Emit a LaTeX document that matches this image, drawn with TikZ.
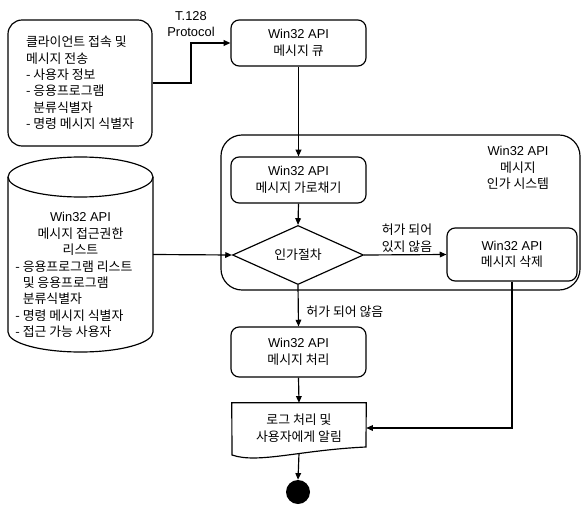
\documentclass[tikz,border=0pt]{standalone}
\usepackage{fontspec}
\setmainfont{Liberation Sans}
\newfontfamily\kr{Noto Sans CJK KR}
\usetikzlibrary{arrows.meta,shapes.geometric}

\begin{document}
\begin{tikzpicture}[
    x=0.03cm, y=-0.03cm,
    font=\fontsize{11}{14}\selectfont,
    line/.style={line width=1pt},
    box/.style={draw, line, rounded corners=7pt, align=center, inner sep=2pt},
    arr/.style={-{Triangle[length=2mm,width=1.7mm]}, line},
    lbl/.style={align=center, inner sep=1pt}
  ]
    \useasboundingbox (0,0) rectangle (584,505);

    % outer system box
    \node[box, rounded corners=18pt, minimum width=10.77cm, minimum height=4.65cm] (sys) at (400.5,212.5) {};
    \node[lbl] (systxt) at (518,168) {Win32 API\\{\kr 메시지}\\{\kr 인가 시스템}};

    \node[box, rounded corners=12pt, minimum width=4.32cm, minimum height=3.78cm, align=left] (client) at (80,83)
      {\kr 클라이언트 접속 및\\\kr 메시지 전송\\\kr - 사용자 정보\\\kr - 응용프로그램\\\kr \phantom{- }분류식별자\\\kr - 명령 메시지 식별자};

    \node[lbl] (proto) at (191,24) {T.128\\Protocol};

    \node[box, minimum width=4.05cm, minimum height=1.38cm] (queue) at (298.5,43)
      {Win32 API\\{\kr 메시지 큐}};
    \node[box, minimum width=4.05cm, minimum height=1.38cm] (grab) at (298.5,180)
      {Win32 API\\{\kr 메시지 가로채기}};
    \node[draw, line, diamond, minimum width=3.93cm, minimum height=1.47cm, inner sep=0pt] (auth) at (298,255)
      {\kr 인가절차};
    \node[box, minimum width=3.9cm, minimum height=1.59cm] (del) at (512,254.5)
      {Win32 API\\{\kr 메시지 삭제}};
    \node[box, minimum width=4.05cm, minimum height=1.5cm] (proc) at (298.5,352)
      {Win32 API\\{\kr 메시지 처리}};

    % document shape
    \node[minimum width=4.02cm, minimum height=1.5cm, align=center] (doc) at (299,428)
      {\kr 로그 처리 및\\\kr 사용자에게 알림};
    \draw[line] (doc.north west) -- (doc.north east) -- (366,447)
      .. controls (300,450) and (258,464) .. (232,455) -- cycle;

    \node[circle, fill=black, minimum size=0.72cm, inner sep=0pt] (end) at (298,492) {};

    % access list cylinder
    \node[minimum width=4.35cm, minimum height=5.85cm] (acl) at (80.5,254.5) {};
    \draw[line] (80.5,177) ellipse [x radius=2.175cm, y radius=0.6cm];
    \draw[line] (8,177) -- (8,332) arc [start angle=180, end angle=360, x radius=2.175cm, y radius=0.6cm] -- (153,177);
    \node[lbl] (acltitle) at (80.5,234) {Win32 API\\{\kr 메시지 접근권한}\\{\kr 리스트}};
    \node[lbl, align=left, anchor=west] (aclitems) at (14,299)
      {\kr - 응용프로그램 리스트\\\kr \phantom{- }및 응용프로그램\\\kr \phantom{- }분류식별자\\\kr - 명령 메시지 식별자\\\kr - 접근 가능 사용자};

    % edge labels
    \node[lbl] (nolbl) at (407,238) {\kr 허가 되어\\\kr 있지 않음};
    \node[lbl, anchor=west] (oklbl) at (305,312) {\kr 허가 되어 않음};

    \draw[arr] (client.east) -- (proto.south |- client.east) |- (queue.west);
    \draw[arr] (queue.south) -- (grab.north);
    \draw[arr] (grab.south) -- (auth.north);
    \draw[arr] (acl.east) -- (auth.west);
    \draw[arr] (auth.east) -- (del.west);
    \draw[arr] (auth.south) -- (proc.north);
    \draw[arr] (proc.south) -- (doc.north);
    \draw[arr] (del.south) |- (doc.east);
    \draw[arr] (doc.south) -- (end.north);
\end{tikzpicture}
\end{document}
